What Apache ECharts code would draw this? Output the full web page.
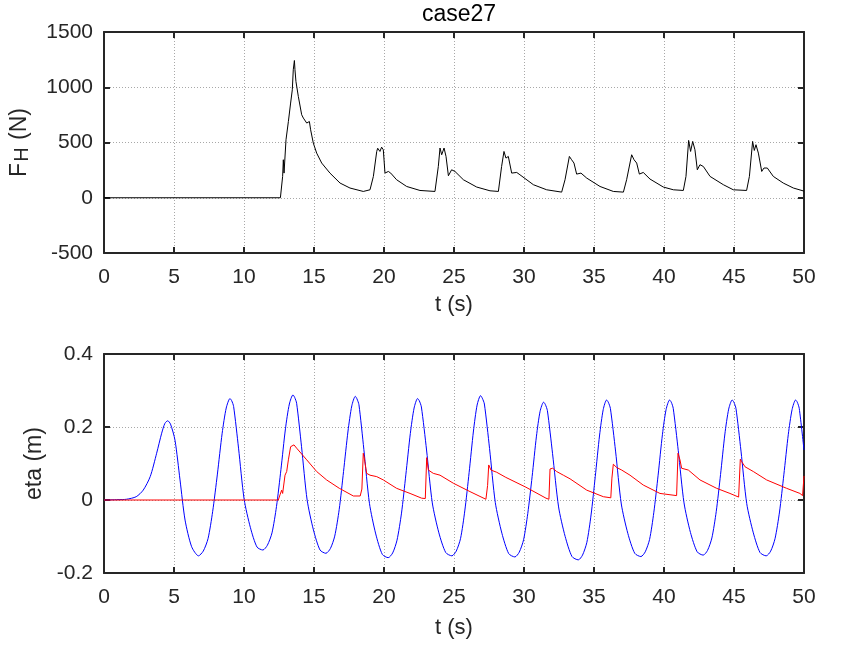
<!DOCTYPE html>
<html>
<head>
<meta charset="utf-8">
<script src="https://cdn.jsdelivr.net/npm/echarts@6/dist/echarts.min.js"></script>
<style>
html,body{margin:0;padding:0;background:#fff;}
#chart{width:852px;height:648px;}
</style>
</head>
<body>
<div id="chart"></div>
<script>
// ---------- data ----------
var titleText = 'case27';
var xTicks = [0, 5, 10, 15, 20, 25, 30, 35, 40, 45, 50];
var forceTicks = [-500, 0, 500, 1000, 1500];
var etaTicks = [-0.2, 0, 0.2, 0.4];

var forceTime = [0,12.6,12.7,12.76,12.81,12.86,13.0,13.17,13.33,13.45,13.52,13.6,13.64,13.71,13.88,14.12,14.24,14.48,14.67,14.76,14.95,15.19,15.55,16.14,16.86,17.57,18.52,19.0,19.24,19.48,19.55,19.71,19.83,19.95,20.07,20.31,20.48,20.9,21.62,22.57,23.64,23.88,24.0,24.12,24.29,24.43,24.6,24.83,25.07,25.67,26.62,27.57,28.17,28.4,28.57,28.71,28.88,29.12,29.48,29.71,30.67,31.62,32.69,32.93,33.24,33.4,33.57,33.76,34.07,34.48,35.43,36.38,37.1,37.33,37.69,37.86,38.05,38.24,38.52,39.0,39.95,40.67,41.38,41.57,41.76,41.9,42.05,42.21,42.38,42.57,42.81,43.29,44.24,44.95,45.9,46.1,46.33,46.45,46.57,46.74,46.98,47.14,47.38,47.81,48.52,49.24,50];
var forceValue = [0,0,5,193,344,223,525,690,857,977,1158,1242,1160,1052,917,751,721,676,690,615,495,404,314,223,133,88,57,72,193,419,448,419,458,434,223,238,223,163,102,66,57,283,450,389,450,374,199,253,238,163,97,63,57,283,419,359,374,223,229,208,118,72,51,163,374,344,314,214,223,178,102,57,51,163,389,344,314,214,229,169,97,72,66,193,519,419,510,434,253,299,283,193,118,72,66,193,510,428,480,404,238,269,269,193,133,88,60];

var waveTime = [0,1.0,1.6,2.3,2.8,3.3,3.76,4.12,4.35,4.55,4.75,5.07,5.43,5.79,6.26,6.75,
  7.09,7.43,7.76,8.10,8.44,8.73,9.0,9.12,9.26,9.61,10.01,10.46,10.93,11.35,
  11.67,12.0,12.32,12.64,12.96,13.24,13.5,13.62,13.76,14.11,14.51,14.96,15.43,15.85,
  16.17,16.48,16.80,17.11,17.43,17.70,17.95,18.07,18.21,18.56,18.96,19.41,19.88,20.3,
  20.62,20.93,21.25,21.56,21.88,22.15,22.4,22.52,22.67,23.04,23.45,23.92,24.41,24.85,
  25.16,25.47,25.77,26.08,26.39,26.65,26.9,27.02,27.17,27.54,27.95,28.42,28.91,29.35,
  29.66,29.97,30.27,30.58,30.89,31.15,31.4,31.52,31.67,32.04,32.47,32.94,33.43,33.88,
  34.18,34.49,34.79,35.09,35.40,35.66,35.9,36.02,36.17,36.54,36.95,37.42,37.91,38.35,
  38.66,38.97,39.27,39.58,39.89,40.15,40.4,40.52,40.66,41.02,41.43,41.89,42.37,42.8,
  43.11,43.42,43.73,44.04,44.35,44.62,44.87,44.99,45.14,45.50,45.91,46.38,46.86,47.3,
  47.62,47.93,48.25,48.56,48.88,49.15,49.4,49.52,49.66,50.0];
var waveEta = [0,0.001,0.002,0.009,0.027,0.064,0.128,0.183,0.21,0.217,0.208,0.164,0.055,-0.055,-0.128,-0.153,
  -0.140,-0.106,-0.032,0.071,0.183,0.252,0.278,0.272,0.256,0.142,0.002,-0.076,-0.129,-0.137,
  -0.124,-0.090,-0.018,0.084,0.195,0.263,0.288,0.281,0.265,0.146,0,-0.082,-0.137,-0.146,
  -0.133,-0.099,-0.026,0.078,0.189,0.258,0.284,0.277,0.261,0.139,-0.009,-0.093,-0.149,-0.158,
  -0.145,-0.110,-0.036,0.069,0.182,0.252,0.278,0.272,0.255,0.137,-0.008,-0.090,-0.144,-0.153,
  -0.140,-0.105,-0.030,0.075,0.189,0.260,0.286,0.279,0.263,0.141,-0.007,-0.091,-0.147,-0.156,
  -0.143,-0.109,-0.037,0.064,0.175,0.243,0.268,0.262,0.245,0.127,-0.019,-0.100,-0.155,-0.164,
  -0.151,-0.116,-0.041,0.064,0.178,0.248,0.274,0.268,0.251,0.134,-0.011,-0.092,-0.146,-0.155,
  -0.142,-0.108,-0.035,0.068,0.180,0.248,0.274,0.268,0.251,0.135,-0.008,-0.089,-0.142,-0.151,
  -0.138,-0.104,-0.032,0.070,0.181,0.249,0.274,0.268,0.251,0.134,-0.010,-0.090,-0.144,-0.153,
  -0.140,-0.106,-0.033,0.069,0.180,0.248,0.274,0.268,0.251,0.137];

var innerTime = [0,12.45,12.57,12.69,12.76,12.93,13.05,13.17,13.33,13.57,13.76,14.48,15.19,15.9,16.81,17.81,18.3,18.42,18.52,18.57,18.76,19.0,19.48,19.95,20.9,21.86,22.69,22.95,23.05,23.17,23.52,24.0,24.95,26.14,27.28,27.4,27.48,27.64,28.05,28.7,30.14,31.57,31.78,31.86,32.05,32.33,32.81,33.29,34.48,35.67,36.2,36.28,36.38,36.62,36.98,37.57,38.52,39.71,40.9,41.0,41.14,41.26,41.74,42.57,43.76,44.71,45.33,45.45,45.55,45.79,46.38,47.33,48.76,49.71,49.9,50.0];
var innerEta = [0,0,0.014,0.027,0.018,0.068,0.078,0.11,0.146,0.151,0.142,0.11,0.078,0.055,0.032,0.011,0.011,0.03,0.128,0.12,0.073,0.068,0.064,0.055,0.032,0.018,0.005,0.004,0.116,0.082,0.073,0.068,0.046,0.023,0.002,0.04,0.096,0.082,0.076,0.062,0.035,0.005,0.002,0.085,0.087,0.078,0.068,0.058,0.027,0.009,0.006,0.06,0.098,0.089,0.082,0.068,0.041,0.018,0.012,0.128,0.11,0.087,0.082,0.055,0.032,0.018,0.008,0.112,0.105,0.091,0.078,0.055,0.032,0.018,0.012,0.066];

function pairs(xs, ys){ return xs.map(function(x,i){ return [x, ys[i]]; }); }

// ---------- styles ----------
var ink = '#262626';
var fontFam = '"Liberation Sans", Arial, sans-serif';
var gridDots = {show:true, lineStyle:{color:'#a8a8a8', type:[1,2], width:1}};
function xAxisMain(gi, gapLabel, gapName){
  return {
    type:'value', gridIndex:gi, min:0, max:50, interval:5, position:'bottom',
    axisLine:{show:true, onZero:false, lineStyle:{color:ink, width:2}},
    axisTick:{show:true, inside:true, length:6, lineStyle:{color:ink, width:2}},
    axisLabel:{show:true, margin:gapLabel, fontSize:21, color:ink, fontFamily:fontFam},
    splitLine:gridDots,
    name:'t (s)', nameLocation:'middle', nameGap:gapName,
    nameTextStyle:{fontSize:22, color:ink, fontFamily:fontFam}
  };
}
function xAxisTop(gi){
  return {
    type:'value', gridIndex:gi, min:0, max:50, interval:5, position:'top',
    axisLine:{show:true, onZero:false, lineStyle:{color:ink, width:2}},
    axisTick:{show:true, inside:true, length:6, lineStyle:{color:ink, width:2}},
    axisLabel:{show:false}, splitLine:{show:false}
  };
}
function yAxisRight(gi, mn, mx, iv){
  return {
    type:'value', gridIndex:gi, min:mn, max:mx, interval:iv, position:'right',
    axisLine:{show:true, onZero:false, lineStyle:{color:ink, width:2}},
    axisTick:{show:true, inside:true, length:6, lineStyle:{color:ink, width:2}},
    axisLabel:{show:false}, splitLine:{show:false}
  };
}

var chart = echarts.init(document.getElementById('chart'), null, {renderer:'canvas'});
chart.setOption({
  animation:false,
  backgroundColor:'#ffffff',
  title:{text:titleText, left:454, top:-2, textAlign:'center',
    textStyle:{fontSize:23, fontWeight:'normal', color:'#000', fontFamily:fontFam}},
  grid:[
    {left:104, top:32, width:700, height:221, containLabel:false, outerBoundsMode:'none'},
    {left:104, top:354, width:700, height:219, containLabel:false, outerBoundsMode:'none'}
  ],
  xAxis:[ xAxisMain(0, 14, 41), xAxisTop(0), xAxisMain(1, 14, 44), xAxisTop(1) ],
  yAxis:[
    {type:'value', gridIndex:0, min:forceTicks[0], max:forceTicks[forceTicks.length-1], interval:500,
     axisLine:{show:true, onZero:false, lineStyle:{color:ink, width:2}},
     axisTick:{show:true, inside:true, length:6, lineStyle:{color:ink, width:2}},
     axisLabel:{margin:11, fontSize:21, color:ink, fontFamily:fontFam,
       formatter:function(v){ return String(v); }},
     splitLine:gridDots,
     name:'{m|F}{s|H}{m| (N)}', nameLocation:'middle', nameRotate:90, nameGap:72,
     nameTextStyle:{color:ink, fontFamily:fontFam,
       rich:{ m:{fontSize:23, color:ink, fontFamily:fontFam, lineHeight:24, verticalAlign:'top'},
              s:{fontSize:20, color:ink, fontFamily:fontFam, lineHeight:24, padding:[24,1,0,1], verticalAlign:'bottom'} }}},
    yAxisRight(0, -500, 1500, 500),
    {type:'value', gridIndex:1, min:etaTicks[0], max:etaTicks[etaTicks.length-1], interval:0.2,
     axisLine:{show:true, onZero:false, lineStyle:{color:ink, width:2}},
     axisTick:{show:true, inside:true, length:6, lineStyle:{color:ink, width:2}},
     axisLabel:{margin:11, fontSize:21, color:ink, fontFamily:fontFam,
       formatter:function(v){ return Math.abs(v) < 1e-9 ? '0' : v.toFixed(1); }},
     splitLine:gridDots,
     name:'eta (m)', nameLocation:'middle', nameRotate:90, nameGap:40,
     nameTextStyle:{fontSize:23, color:ink, fontFamily:fontFam}},
    yAxisRight(1, -0.2, 0.4, 0.2)
  ],
  series:[
    {type:'line', xAxisIndex:0, yAxisIndex:0, data:pairs(forceTime, forceValue),
     showSymbol:false, lineStyle:{color:'#000', width:1}, itemStyle:{color:'#000'}},
    {type:'line', xAxisIndex:2, yAxisIndex:2, data:pairs(waveTime, waveEta), smooth:0.25,
     showSymbol:false, lineStyle:{color:'#0000ff', width:1}, itemStyle:{color:'#0000ff'}},
    {type:'line', xAxisIndex:2, yAxisIndex:2, data:pairs(innerTime, innerEta),
     showSymbol:false, lineStyle:{color:'#ff0000', width:1}, itemStyle:{color:'#ff0000'}}
  ]
});
</script>
</body>
</html>
